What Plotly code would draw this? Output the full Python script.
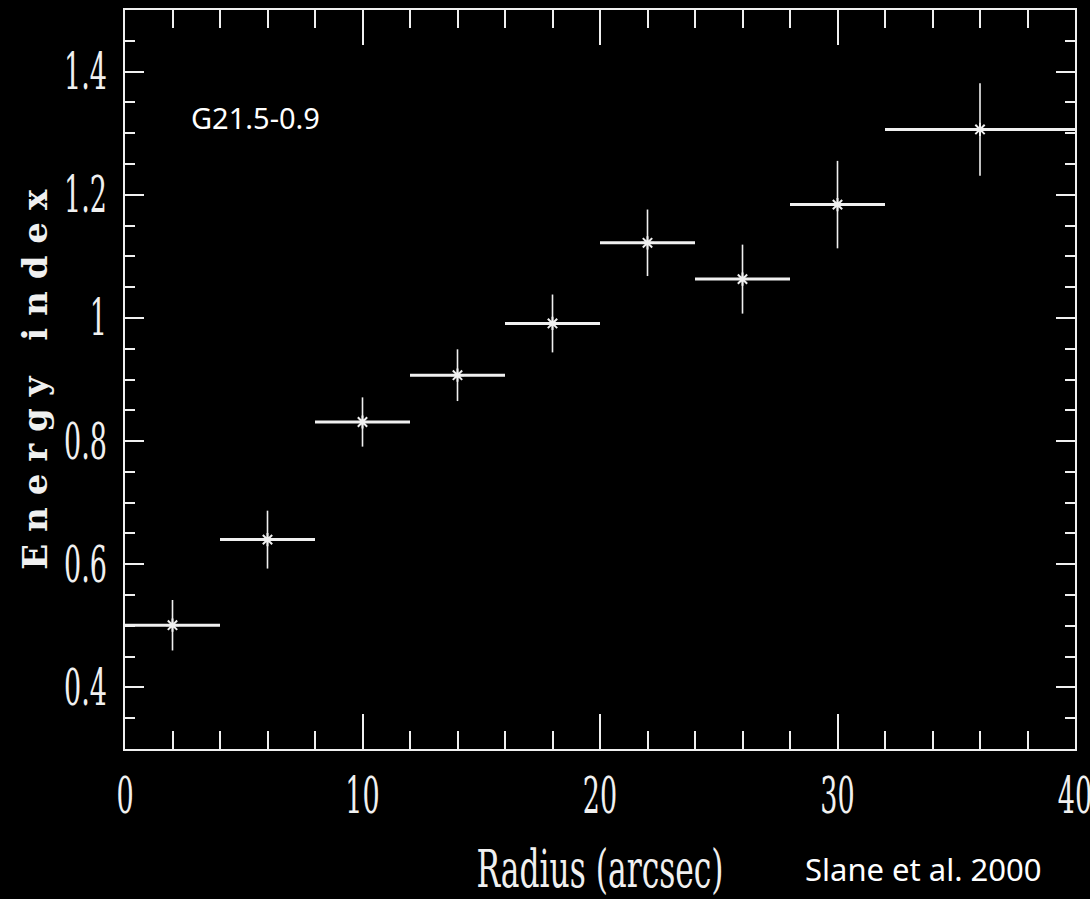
import plotly.graph_objects as go

# Radial bins (arcsec): centres and half-widths
radius = [2, 6, 10, 14, 18, 22, 26, 30, 36]
radius_halfwidth = [2, 2, 2, 2, 2, 2, 2, 2, 4]

# Spectral energy index per bin and its 1-sigma uncertainty
energy_index = [0.501, 0.640, 0.831, 0.907, 0.991, 1.122, 1.063, 1.184, 1.306]
energy_err = [0.041, 0.047, 0.040, 0.042, 0.047, 0.054, 0.056, 0.071, 0.075]

# Axis ticks
x_ticks = [0, 10, 20, 30, 40]
y_ticks = [0.4, 0.6, 0.8, 1.0, 1.2, 1.4]
y_tick_labels = ["0.4", "0.6", "0.8", "1", "1.2", "1.4"]

FG = "#f0f0f0"
SERIF = "DejaVu Serif Condensed, Liberation Serif, serif"
TICK_FONT = dict(family=SERIF, size=50, color=FG)
Y_TITLE = "Energy index"

fig = go.Figure()
fig.add_trace(go.Scatter(
    x=radius,
    y=energy_index,
    mode="markers",
    marker=dict(symbol="asterisk-open", size=11, color=FG, line=dict(color=FG, width=2)),
    error_x=dict(type="data", array=radius_halfwidth, width=0, thickness=3, color=FG),
    error_y=dict(type="data", array=energy_err, width=0, thickness=1.6, color=FG),
    showlegend=False,
))

axis_common = dict(
    showgrid=False,
    zeroline=False,
    showline=True,
    linecolor=FG,
    linewidth=2,
    mirror="ticks",
    ticks="inside",
    tickcolor=FG,
    tickwidth=2,
    tickfont=TICK_FONT,
    ticklabeloverflow="allow",
    automargin=False,
)

fig.update_xaxes(
    **axis_common,
    range=[0, 40],
    tickvals=x_ticks,
    ticklen=35,
    ticklabelstandoff=2,
    minor=dict(dtick=2, ticklen=18, ticks="inside", tickcolor=FG, tickwidth=2, showgrid=False),
    title=dict(text="Radius (arcsec)",
               font=dict(family=SERIF, size=52, color=FG),
               standoff=28),
)
fig.update_yaxes(
    **axis_common,
    range=[0.3, 1.5],
    tickvals=y_ticks,
    ticktext=y_tick_labels,
    ticklen=19,
    ticklabelstandoff=6,
    minor=dict(dtick=0.05, tick0=0.3, ticklen=10, ticks="inside", tickcolor=FG, tickwidth=2, showgrid=False),
)

# Vertical axis title, placed beside the tick labels
fig.add_annotation(
    x=-0.095, y=0.5, xref="paper", yref="paper",
    xanchor="center", yanchor="middle",
    text="<b>" + Y_TITLE + "</b>", textangle=-90, showarrow=False,
    font=dict(family="DejaVu Serif, Liberation Serif, serif", size=34, color=FG),
)
fig.add_annotation(
    x=5.5, y=1.325, xref="x", yref="y",
    xanchor="center", yanchor="middle",
    text="G21.5-0.9", showarrow=False,
    font=dict(family="Noto Sans", size=29, color="white"),
)
fig.add_annotation(
    x=0.84, y=-0.162, xref="paper", yref="paper",
    xanchor="center", yanchor="middle",
    text="Slane et al. 2000", showarrow=False,
    font=dict(family="Noto Sans", size=31, color="white"),
)

fig.update_layout(
    width=1090,
    height=899,
    margin=dict(l=125, r=15, t=10, b=150),
    paper_bgcolor="black",
    plot_bgcolor="black",
)

# Axis lettering: tall condensed digits and x title, letter-spaced y title
lettering_js = """
var gd = document.getElementById('{plot_id}');
function condense(sel, k) {
  gd.querySelectorAll(sel).forEach(function (t) {
    var w = t.getComputedTextLength();
    t.setAttribute('textLength', (w * k).toFixed(1));
    t.setAttribute('lengthAdjust', 'spacingAndGlyphs');
  });
}
condense('.xtick text', 0.6);
condense('.ytick text', 0.6);
condense('.g-xtitle text', 0.67);
gd.querySelectorAll('.annotation text').forEach(function (t) {
  if (t.textContent === 'Energy index') {
    t.setAttribute('textLength', '380');
    t.setAttribute('lengthAdjust', 'spacing');
  }
});
"""

fig.write_html("out.html", post_script=lettering_js)
